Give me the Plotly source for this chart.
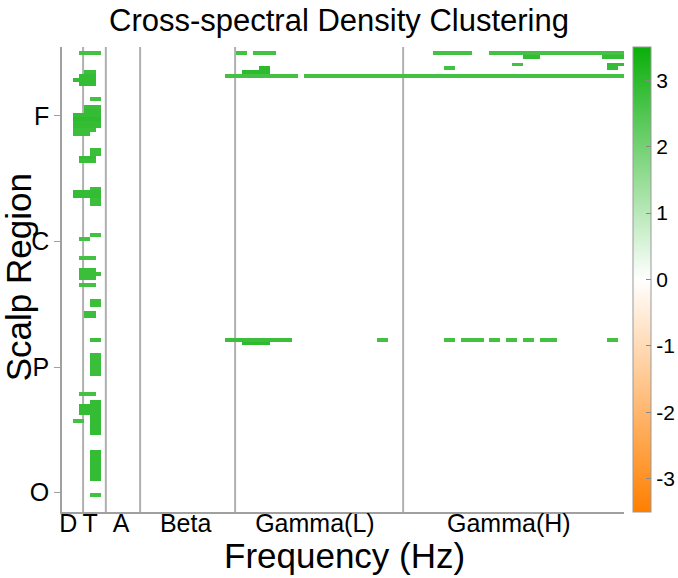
import plotly.graph_objects as go

# ---------------- data ----------------
n_rows = 120            # channel-pair rows (top = row 0)
n_freq = 100            # 1-Hz frequency bins, 0..100 Hz

band_edges = [3.75, 7.8, 13.9, 30.8, 60.7]
band_labels = ["D", "T", "A", "Beta", "Gamma(L)", "Gamma(H)"]
band_label_pos = [1.1, 5.0, 10.5, 22.0, 45.0, 79.5]

region_labels = ["F", "C", "P", "O"]
region_pos = [17.8, 50.2, 82.6, 115.0]

cbar_ticks = [-3, -2, -1, 0, 1, 2, 3]
cbar_text = ["-3", "-2", "-1", "0", "1", "2", "3"]

# (row, start Hz, end Hz, value) -- low-frequency (delta/theta) clusters
low_cells = [
    (1, 3, 7, 2.7),
    (6, 4, 6, 2.8), (7, 3, 6, 2.9), (8, 2, 6, 2.9), (9, 3, 6, 2.9),
    (13, 5, 7, 2.7),
    (15, 4, 7, 2.8), (16, 4, 7, 2.9), (17, 2, 7, 2.9), (18, 2, 7, 3.0),
    (19, 2, 7, 2.9), (20, 2, 7, 2.9), (21, 2, 6, 2.8), (22, 2, 5, 2.8),
    (26, 5, 7, 2.8), (27, 5, 7, 2.8), (28, 3, 6, 2.9), (29, 3, 6, 2.8),
    (36, 5, 7, 2.8), (37, 2, 7, 2.9), (38, 2, 7, 2.9), (39, 5, 7, 2.8), (40, 5, 7, 2.8),
    (48, 5, 7, 2.7), (49, 3, 5, 2.7),
    (54, 3, 6, 2.7),
    (57, 3, 6, 2.8), (58, 3, 7, 2.8), (59, 3, 6, 2.8),
    (61, 3, 6, 2.7),
    (65, 5, 7, 2.8), (66, 5, 7, 2.8),
    (68, 4, 6, 2.8), (69, 4, 6, 2.8),
    (75, 5, 7, 2.8),
    (79, 5, 7, 2.8), (80, 5, 7, 2.8), (81, 5, 7, 2.8), (82, 5, 7, 2.8),
    (83, 5, 7, 2.8), (84, 5, 7, 2.8),
    (89, 3, 6, 2.7),
    (91, 5, 7, 2.9), (92, 5, 7, 2.9), (93, 5, 7, 2.9), (94, 5, 7, 2.9),
    (95, 5, 7, 2.9), (96, 5, 7, 2.9), (97, 5, 7, 2.9), (98, 5, 7, 2.9), (99, 5, 7, 2.9),
    (92, 3, 5, 2.9), (93, 3, 5, 2.9), (94, 3, 5, 2.9),
    (96, 2, 4, 2.7),
    (104, 5, 7, 2.9), (105, 5, 7, 2.9), (106, 5, 7, 2.9), (107, 5, 7, 2.9),
    (108, 5, 7, 2.9), (109, 5, 7, 2.9), (110, 5, 7, 2.9), (111, 5, 7, 2.9),
    (115, 5, 7, 2.7),
]

# (row, start Hz, end Hz, value) -- beta/gamma clusters
high_cells = [
    (1, 31, 33, 2.7), (1, 34, 38, 2.7),
    (5, 35, 37, 3.0), (6, 32, 37, 3.0),
    (7, 29, 42, 2.7), (7, 43, 100, 2.7),
    (1, 66, 73, 2.7), (1, 76, 100, 2.7),
    (2, 82, 85, 2.9), (2, 96, 100, 2.9),
    (4, 80, 82, 2.7), (5, 68, 70, 2.7),
    (4, 97, 100, 2.9), (5, 97, 99, 2.9),
    (75, 29, 41, 2.8), (76, 32, 37, 3.0),
    (75, 56, 58, 2.7), (75, 68, 70, 2.7), (75, 71, 75, 2.7), (75, 76, 78, 2.7),
    (75, 79, 81, 2.7), (75, 82, 84, 2.7), (75, 85, 88, 2.7), (75, 97, 99, 2.7),
]

# ---------------- build matrix ----------------
z = [[None] * n_freq for _ in range(n_rows)]
for row, f0, f1, v in low_cells + high_cells:
    for f in range(f0, f1):
        z[row][f] = v

x_centers = [f + 0.5 for f in range(n_freq)]
y_centers = [r + 0.5 for r in range(n_rows)]

FONT = "Liberation Sans, Arial, sans-serif"
GRAY = "#b0b0b0"

fig = go.Figure()
fig.add_trace(go.Heatmap(
    x=x_centers, y=y_centers, z=z,
    zmin=-3.5, zmax=3.5,
    colorscale=[[0.0, "rgb(255,127,0)"], [0.5, "rgb(255,255,255)"], [1.0, "rgb(10,175,10)"]],
    hoverinfo="skip",
    colorbar=dict(
        thickness=18, thicknessmode="pixels",
        len=1.0, lenmode="fraction", y=0.5, yanchor="middle",
        x=1.016, xanchor="left", xpad=0, ypad=0,
        outlinecolor="#999999", outlinewidth=1,
        tickvals=cbar_ticks, ticktext=cbar_text,
        ticks="inside", ticklen=5, tickcolor="#888888",
        tickfont=dict(family=FONT, size=21, color="black"),
    ),
))

for e in band_edges:
    fig.add_shape(type="line", x0=e, x1=e, y0=0, y1=1, xref="x", yref="paper",
                  line=dict(color=GRAY, width=2), layer="below")

fig.update_layout(
    width=678, height=578,
    margin=dict(l=62, r=54, t=47, b=66, autoexpand=False),
    paper_bgcolor="white", plot_bgcolor="white",
    font=dict(family=FONT, color="black"),
    title=dict(text="Cross-spectral Density Clustering", x=0.5, xref="container",
               y=1 - 20 / 578, yref="container", yanchor="middle",
               font=dict(family=FONT, size=31, color="black")),
    showlegend=False,
)
fig.update_xaxes(
    range=[0, n_freq], showgrid=False, zeroline=False,
    showline=True, linecolor="#a0a0a0", linewidth=1.5,
    tickmode="array", tickvals=band_label_pos, ticktext=band_labels,
    ticks="", ticklabelstandoff=-12,
    tickfont=dict(family=FONT, size=25, color="black"),
)
fig.update_yaxes(
    range=[n_rows, 0], showgrid=False, zeroline=False,
    showline=True, linecolor="#a0a0a0", linewidth=1.5,
    tickmode="array", tickvals=region_pos, ticktext=region_labels,
    ticks="outside", ticklen=6, tickcolor="#a0a0a0",
    tickfont=dict(family=FONT, size=25, color="black"),
)

fig.add_annotation(text="Frequency (Hz)", xref="paper", yref="paper",
                   x=0.502, y=-0.093, xanchor="center", yanchor="middle",
                   showarrow=False, font=dict(family=FONT, size=35, color="black"))
fig.add_annotation(text="Scalp Region", xref="paper", yref="paper",
                   x=-0.078, y=0.505, xanchor="center", yanchor="middle",
                   textangle=-90, showarrow=False,
                   font=dict(family=FONT, size=35, color="black"))

# remove the page's default 8px body margin so the figure fills the window exactly
fig.write_html("out.html",
               config={"displayModeBar": False},
               post_script="document.body.style.margin='0';document.body.style.overflow='hidden';")
